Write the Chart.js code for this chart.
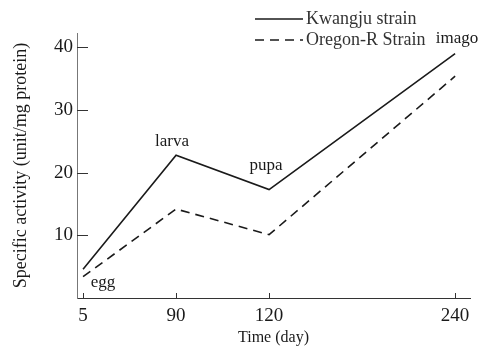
<!DOCTYPE html>
<html>
<head>
<meta charset="utf-8">
<script src="https://cdn.jsdelivr.net/npm/chart.js@4.4.0/dist/chart.umd.min.js"></script>
<style>
  html, body { margin: 0; padding: 0; background: #fff; }
</style>
</head>
<body>
<canvas id="chartvas" width="489" height="348"></canvas>
<script>
'use strict';

// time axis: 240 sits two slots after 120 in the original figure
const days = ['5', '90', '120', '240'];
const daySlot = [0, 1, 2, 4];
const stages = ['egg', 'larva', 'pupa', 'imago'];
const kwangju = [4.6, 22.8, 17.3, 39.0];
const oregon = [3.4, 14.2, 10.1, 35.4];
const yTicks = [10, 20, 30, 40];
const seriesNames = ['Kwangju strain', 'Oregon-R Strain'];

const serif = "'Liberation Serif', 'DejaVu Serif', serif";
const ink = '#1a1a1a';

const toPoints = values => values.map((v, i) => ({ x: daySlot[i], y: v }));

// ---- ticks pointing inward, stage names, legend ----
const paperPlugin = {
    id: 'paper',
    afterDraw(chart) {
        const ctx = chart.ctx;
        const xs = chart.scales.x;
        const ys = chart.scales.y;
        const area = chart.chartArea;
        ctx.save();
        ctx.strokeStyle = '#333';
        ctx.lineWidth = 1;
        ctx.beginPath();
        yTicks.forEach(v => {
            const py = Math.round(ys.getPixelForValue(v)) + 0.5;
            ctx.moveTo(area.left, py);
            ctx.lineTo(area.left + 11, py);
        });
        daySlot.forEach(s => {
            const px = Math.round(xs.getPixelForValue(s)) + 0.5;
            ctx.moveTo(px, area.bottom);
            ctx.lineTo(px, area.bottom - 5);
        });
        ctx.stroke();

        // stage names next to the upper curve
        const offsets = [[20, 13], [-4, -14], [-3, -24], [2, -15]];
        ctx.font = '17px ' + serif;
        ctx.fillStyle = ink;
        ctx.textAlign = 'center';
        ctx.textBaseline = 'middle';
        chart.getDatasetMeta(0).data.forEach((pt, i) => {
            ctx.fillText(stages[i], pt.x + offsets[i][0], pt.y + offsets[i][1]);
        });

        // legend, top right
        const left = chart.width - 234;
        ctx.font = '18px ' + serif;
        ctx.textAlign = 'left';
        ctx.fillStyle = '#333';
        chart.data.datasets.forEach((ds, i) => {
            const ly = 19 + i * 21;
            ctx.setLineDash(ds.borderDash || []);
            ctx.lineWidth = 1.4;
            ctx.strokeStyle = ink;
            ctx.beginPath();
            ctx.moveTo(left, ly);
            ctx.lineTo(left + 48, ly);
            ctx.stroke();
            ctx.setLineDash([]);
            ctx.fillText(ds.label, left + 51, ly);
        });
        ctx.restore();
    }
};

const config = {
    type: 'line',
    data: {
        datasets: [
            {
                label: seriesNames[0],
                data: toPoints(kwangju),
                borderColor: ink,
                borderWidth: 1.6,
                pointRadius: 0,
                tension: 0
            },
            {
                label: seriesNames[1],
                data: toPoints(oregon),
                borderColor: ink,
                borderWidth: 1.6,
                borderDash: [9, 6],
                pointRadius: 0,
                tension: 0
            }
        ]
    },
    options: {
        responsive: false,
        animation: false,
        devicePixelRatio: 1,
        layout: { padding: { top: 33, right: 19, left: 0, bottom: 0 } },
        plugins: {
            legend: { display: false },
            tooltip: { enabled: false }
        },
        scales: {
            x: {
                type: 'linear',
                min: -0.065,
                max: 4.16,
                afterBuildTicks: scale => { scale.ticks = daySlot.map(v => ({ value: v })); },
                afterFit: scale => { scale.height = 50; },
                grid: { display: false, drawTicks: false },
                border: { display: true, color: '#333', width: 1 },
                ticks: {
                    padding: 7,
                    color: ink,
                    font: { family: serif, size: 19 },
                    callback: value => days[daySlot.indexOf(value)] || ''
                },
                title: {
                    display: true,
                    text: 'Time (day)',
                    color: ink,
                    font: { family: serif, size: 16 },
                    padding: { top: 0, bottom: 1 }
                }
            },
            y: {
                min: 0,
                max: 42.3,
                afterBuildTicks: scale => { scale.ticks = yTicks.map(v => ({ value: v })); },
                afterFit: scale => { scale.width = 77; },
                grid: { display: false, drawTicks: false },
                border: { display: true, color: '#777', width: 1 },
                ticks: {
                    padding: 4,
                    color: ink,
                    font: { family: serif, size: 19 }
                },
                title: {
                    display: true,
                    text: 'Specific activity (unit/mg protein)',
                    color: ink,
                    font: { family: serif, size: 18 },
                    padding: { top: 10, bottom: 0 }
                }
            }
        }
    },
    plugins: [paperPlugin]
};

const myLineChart = new Chart(document.getElementById('chartvas'), config);
</script>
</body>
</html>
